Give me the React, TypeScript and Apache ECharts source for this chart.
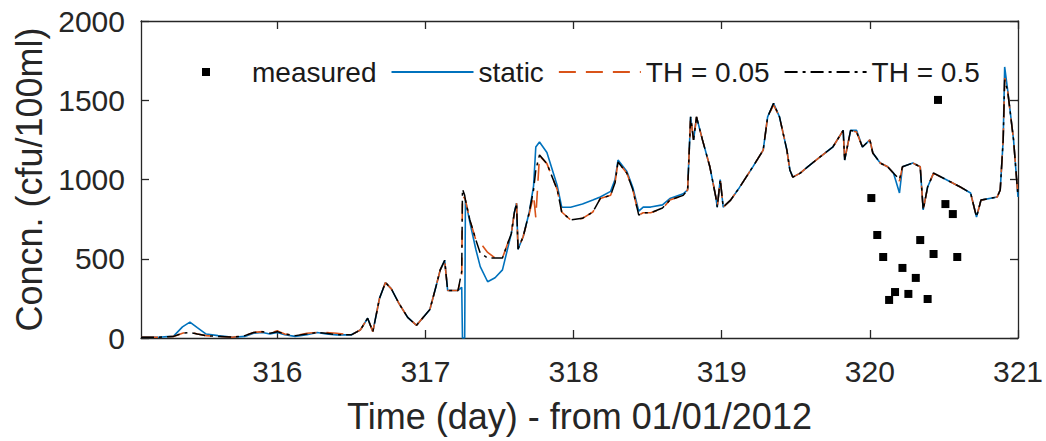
import { useEffect, useRef } from "react";
import * as echarts from "echarts";

// Simulated concentration series (day of year 2012, cfu/100ml)
const times = [
  315.08, 315.2, 315.3, 315.36, 315.41, 315.46, 315.52, 315.6, 315.7, 315.78,
  315.84, 315.9, 315.95, 316.0, 316.05, 316.12, 316.2, 316.27, 316.33, 316.4,
  316.5, 316.56, 316.61, 316.645, 316.69, 316.73, 316.77, 316.82, 316.88, 316.94,
  316.98, 317.03, 317.07, 317.1, 317.13, 317.15, 317.22, 317.245, 317.25, 317.265,
  317.27, 317.3, 317.34, 317.37, 317.42, 317.47, 317.52, 317.58, 317.6, 317.615,
  317.625, 317.66, 317.7, 317.73, 317.745, 317.77, 317.82, 317.89, 317.92, 317.98,
  318.06, 318.13, 318.18, 318.25, 318.28, 318.3, 318.36, 318.4, 318.44, 318.47,
  318.52, 318.6, 318.65, 318.74, 318.77, 318.79, 318.81, 318.83, 318.87, 318.92,
  318.96, 318.97, 318.99, 319.01, 319.06, 319.12, 319.21, 319.28, 319.31, 319.35,
  319.39, 319.44, 319.46, 319.48, 319.53, 319.58, 319.66, 319.75, 319.82, 319.83,
  319.87, 319.91, 319.95, 320.0, 320.02, 320.07, 320.12, 320.16, 320.2, 320.22,
  320.29, 320.34, 320.36, 320.39, 320.43, 320.52, 320.61, 320.68, 320.72, 320.75,
  320.86, 320.88, 320.9, 320.91, 320.93, 320.97, 321.0,
];

const staticConc = [
  5, 5, 12, 70, 100, 65, 25, 15, 5, 10,
  30, 35, 25, 35, 20, 10, 20, 35, 25, 20,
  20, 50, 125, 40, 250, 350, 310, 220, 130, 80,
  125, 180, 320, 430, 490, 300, 300, 320, 0, 0,
  870, 730, 560, 450, 355, 380, 430, 660, 790, 850,
  560, 640, 790, 960, 1205, 1237, 1170, 960, 825, 825,
  845, 870, 890, 925, 1000, 1123, 1050, 950, 800, 826,
  826, 840, 880, 910, 935, 1395, 1250, 1395, 1250, 1080,
  890, 826, 1000, 826, 870, 950, 1080, 1185, 1395, 1480,
  1395, 1185, 1060, 1015, 1040, 1080, 1140, 1205, 1310, 1123,
  1310, 1310, 1205, 1250, 1167, 1104, 1080, 1040, 915, 1080,
  1104, 1080, 808, 953, 1040, 997, 953, 915, 763, 870,
  890, 934, 1250, 1710, 1565, 1250, 890,
];

const th005Conc = [
  5, 5, 10, 30, 40, 25, 15, 10, 5, 15,
  35, 40, 30, 45, 25, 15, 30, 35, 35, 30,
  20, 50, 125, 40, 250, 350, 310, 220, 130, 80,
  125, 180, 320, 430, 490, 300, 300, 400, 900, 880,
  870, 745, 620, 600, 540, 505, 505, 660, 790, 850,
  560, 640, 780, 900, 760, 1150, 1100, 935, 795, 745,
  755, 795, 880, 900, 980, 1110, 1040, 935, 775, 790,
  790, 815, 870, 900, 935, 1395, 1250, 1395, 1250, 1080,
  890, 826, 1000, 826, 870, 950, 1080, 1185, 1395, 1470,
  1395, 1185, 1060, 1015, 1040, 1080, 1140, 1205, 1310, 1123,
  1310, 1300, 1205, 1250, 1167, 1104, 1080, 1040, 990, 1080,
  1104, 1080, 808, 953, 1040, 997, 953, 915, 763, 870,
  890, 934, 1250, 1640, 1560, 1250, 890,
];

const th05Conc = [
  5, 5, 10, 30, 35, 25, 15, 10, 5, 15,
  35, 40, 30, 40, 25, 15, 25, 35, 30, 20,
  20, 50, 125, 40, 250, 350, 310, 220, 130, 80,
  125, 180, 320, 430, 490, 300, 300, 420, 940, 900,
  870, 745, 620, 535, 505, 505, 505, 660, 790, 850,
  560, 640, 790, 935, 1060, 1155, 1100, 935, 795, 745,
  755, 795, 880, 900, 980, 1110, 1040, 935, 775, 790,
  790, 820, 870, 900, 935, 1395, 1250, 1395, 1250, 1080,
  890, 826, 1000, 826, 870, 950, 1080, 1185, 1395, 1480,
  1395, 1185, 1060, 1015, 1040, 1080, 1140, 1205, 1310, 1123,
  1310, 1300, 1205, 1250, 1167, 1104, 1080, 1040, 1000, 1080,
  1104, 1080, 808, 953, 1040, 997, 953, 915, 763, 870,
  890, 934, 1250, 1630, 1560, 1250, 890,
];

// Sampled concentrations
const measuredTimes = [
  320.01, 320.05, 320.09, 320.13, 320.17, 320.22, 320.26, 320.31,
  320.34, 320.39, 320.43, 320.46, 320.51, 320.56, 320.59,
];
const measuredConc = [
  883, 650, 511, 240, 290, 442, 278, 379,
  618, 246, 530, 1502, 845, 782, 511,
];

const xTickValues = [316, 317, 318, 319, 320, 321];
const X_MIN = 315.08;
const X_MAX = 321;
const Y_MIN = 0;
const Y_MAX = 2000;
const Y_STEP = 500;

const BLUE = "#0072BD";
const ORANGE = "#D95319";
const INK = "#262626";
const FONT = "'Liberation Sans', Arial, Helvetica, sans-serif";

const pair = (xs: number[], ys: number[]) => xs.map((x, i) => [x, ys[i]]);

export default function App() {
  const ref = useRef<HTMLDivElement>(null);

  useEffect(() => {
    document.body.style.margin = "0";
    const chart = echarts.init(ref.current!, null, { renderer: "svg" });

    const axisLine = { show: true, onZero: false, lineStyle: { color: INK, width: 1.3 } };
    const tickStyle = { color: INK, width: 1.3 };
    // line entries show only the stroke, no marker
    const lineOnly = { opacity: 0 };

    chart.setOption({
      animation: false,
      backgroundColor: "#ffffff",
      textStyle: { fontFamily: FONT },
      grid: { left: 141, right: 28, top: 21, bottom: 103, containLabel: false, outerBoundsMode: "none" },
      legend: {
        left: 202,
        top: 58,
        padding: 0,
        itemGap: 14,
        itemWidth: 82,
        itemHeight: 8,
        selectedMode: false,
        textStyle: { fontSize: 28, color: "#1a1a1a", fontFamily: FONT },
        data: [
          { name: "measured", icon: "path://M0 0H10V10H0Z", itemStyle: { color: "#000000", opacity: 1 } },
          { name: "static", itemStyle: lineOnly },
          { name: "TH = 0.05", itemStyle: lineOnly },
          { name: "TH = 0.5", itemStyle: lineOnly },
        ],
      },
      xAxis: [
        {
          type: "value",
          position: "bottom",
          min: X_MIN,
          max: X_MAX,
          axisLine,
          axisTick: { inside: true, length: 8, customValues: xTickValues, lineStyle: tickStyle },
          axisLabel: { customValues: xTickValues, fontSize: 30, color: INK, margin: 18, fontFamily: FONT },
          splitLine: { show: false },
          name: "Time (day) - from 01/01/2012",
          nameLocation: "middle",
          nameGap: 60,
          nameTextStyle: { fontSize: 36, color: INK, fontFamily: FONT },
        },
        {
          type: "value",
          position: "top",
          min: X_MIN,
          max: X_MAX,
          axisLine,
          axisTick: { inside: true, length: 8, customValues: xTickValues, lineStyle: tickStyle },
          axisLabel: { show: false },
          splitLine: { show: false },
        },
      ],
      yAxis: [
        {
          type: "value",
          position: "left",
          min: Y_MIN,
          max: Y_MAX,
          interval: Y_STEP,
          axisLine,
          axisTick: { show: true, inside: true, length: 8, lineStyle: tickStyle },
          axisLabel: {
            fontSize: 30,
            color: INK,
            margin: 16,
            fontFamily: FONT,
            formatter: (v: number) => String(v),
          },
          splitLine: { show: false },
          name: "Concn. (cfu/100ml)",
          nameLocation: "middle",
          nameGap: 92,
          nameTextStyle: { fontSize: 36, color: INK, fontFamily: FONT },
        },
        {
          type: "value",
          position: "right",
          min: Y_MIN,
          max: Y_MAX,
          interval: Y_STEP,
          axisLine,
          axisTick: { show: true, inside: true, length: 8, lineStyle: tickStyle },
          axisLabel: { show: false },
          splitLine: { show: false },
        },
      ],
      series: [
        {
          name: "measured",
          type: "scatter",
          data: pair(measuredTimes, measuredConc),
          symbol: "rect",
          symbolSize: 8,
          itemStyle: { color: "#000000", opacity: 1 },
          z: 5,
        },
        {
          name: "static",
          type: "line",
          data: pair(times, staticConc),
          symbol: "none",
          lineStyle: { color: BLUE, width: 1.6 },
          itemStyle: { color: BLUE },
        },
        {
          name: "TH = 0.05",
          type: "line",
          data: pair(times, th005Conc),
          symbol: "none",
          lineStyle: { color: ORANGE, width: 1.6, type: [17, 10] },
          itemStyle: { color: ORANGE },
        },
        {
          name: "TH = 0.5",
          type: "line",
          data: pair(times, th05Conc),
          symbol: "none",
          lineStyle: { color: "#000000", width: 1.5, type: [13, 5, 3, 5] },
          itemStyle: { color: "#000000" },
        },
      ],
    });

    return () => chart.dispose();
  }, []);

  return <div ref={ref} style={{ width: 1046, height: 441 }} />;
}
